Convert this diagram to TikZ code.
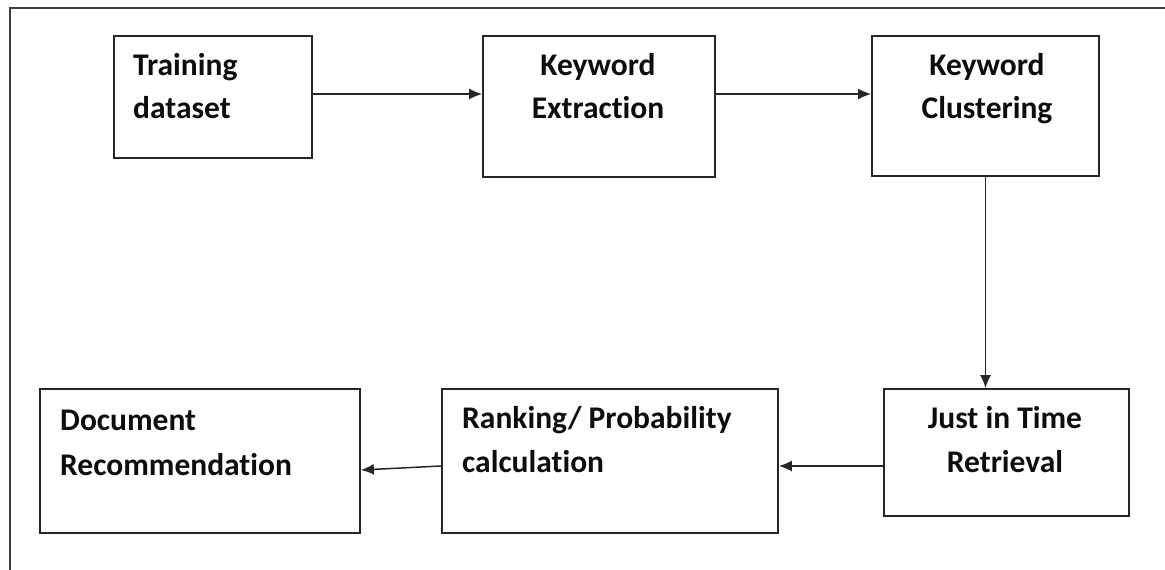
\documentclass[tikz,border=0pt]{standalone}
\usepackage{fontspec}
\setmainfont{Carlito}[Ligatures={NoCommon}]
\usetikzlibrary{arrows.meta}
\begin{document}
\begin{tikzpicture}[x=1pt,y=-1pt,
  box/.style={draw=black!85,line width=1.8pt,inner sep=0pt,fill=white},
  lbl/.style={inner sep=0pt,font=\fontsize{31.5}{36}\selectfont\bfseries,text=black!95},
  arr/.style={draw=black!85,line width=1.5pt,-{Latex[length=13pt,width=11pt]}}]
\useasboundingbox (0,0) rectangle (1165,570);
\fill[white] (0,0) rectangle (1165,570);
\draw[black!75,line width=1.8pt] (10,570) -- (10,8) -- (1165,8);
% boxes
\node[box,minimum width=198pt,minimum height=122pt] (train) at (213,97) {};
\node[box,minimum width=232pt,minimum height=141pt] (extr) at (599,106.5) {};
\node[box,minimum width=227pt,minimum height=140pt] (clus) at (985.5,106) {};
\node[box,minimum width=245pt,minimum height=127pt] (jit) at (1006.5,452.5) {};
\node[box,minimum width=336pt,minimum height=144pt] (rank) at (610,461) {};
\node[box,minimum width=320pt,minimum height=144pt] (doc) at (200,461) {};
% texts
\node[lbl,anchor=base west] (t1a) at (133,75) {Training};
\node[lbl,anchor=base west] (t1b) at (133,118) {dataset};
\node[lbl,anchor=base] (t2a) at (598,75) {Keyword};
\node[lbl,anchor=base] (t2b) at (598,118) {Extraction};
\node[lbl,anchor=base] (t3a) at (987,75) {Keyword};
\node[lbl,anchor=base] (t3b) at (987,118) {Clustering};
\node[lbl,anchor=base] (t4a) at (1005,428) {Just in Time};
\node[lbl,anchor=base] (t4b) at (1005,472) {Retrieval};
\node[lbl,anchor=base west] (t5a) at (462,428) {Ranking/ Probability};
\node[lbl,anchor=base west] (t5b) at (462,472) {calculation};
\node[lbl,anchor=base west] (t6a) at (60,430) {Document};
\node[lbl,anchor=base west] (t6b) at (60,475) {Recommendation};
% connectors
\coordinate (a1) at ([yshift=3pt]train.east);
\draw[arr] (a1) -- (a1 -| extr.west);
\coordinate (a2) at (a1 -| extr.east);
\draw[arr] (a2) -- (a2 -| clus.west);
\draw[arr] (clus.south) -- (clus.south |- jit.north);
\coordinate (a3) at ([yshift=-13.5pt]jit.west);
\draw[arr] (a3) -- (a3 -| rank.east);
\draw[arr] ([yshift=-5pt]rank.west) -- ([yshift=-9pt]doc.east);
\end{tikzpicture}
\end{document}
